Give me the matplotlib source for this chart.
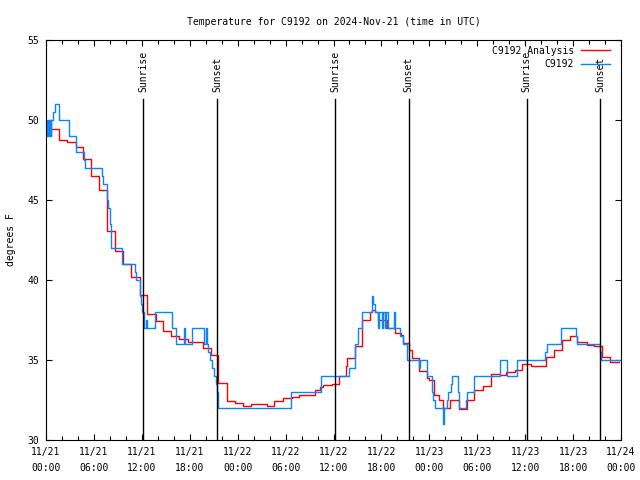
"""
Temperature for C9192 on 2024-Nov-21 - observations vs analysis, with sunrise/sunset marks
"""

import numpy as np
import pandas as pd
import matplotlib
matplotlib.use("Agg")
import matplotlib.pyplot as plt

# hours since 2024-11-21 00:00 UTC
start = pd.Timestamp("2024-11-21 00:00")

# C9192 observations (step data)
obs_hours = [0.00, 0.16, 0.22, 0.38, 0.44, 0.59, 0.65, 0.91, 1.09, 1.63,
             2.92, 3.72, 4.76, 4.92, 7.05, 7.18, 7.68, 7.80, 7.97, 8.18,
             9.48, 11.11, 11.27, 11.77, 11.93, 12.06, 12.27, 12.55, 12.65, 13.65,
             15.74, 16.24, 17.30, 17.45, 18.32, 19.82, 20.00, 20.10, 20.32, 20.54,
             20.82, 21.04, 21.25, 21.41, 21.50, 30.68, 34.40, 37.98, 38.69, 39.10,
             39.61, 40.78, 40.85, 40.95, 41.20, 41.61, 41.72, 42.04, 42.15, 42.45,
             42.55, 42.83, 43.58, 43.70, 44.33, 44.67, 45.24, 46.74, 46.84, 47.67,
             48.30, 48.50, 48.71, 49.75, 49.85, 50.18, 50.38, 50.71, 50.88, 51.63,
             51.75, 52.59, 52.75, 53.63, 56.85, 57.76, 59.02, 62.48, 62.70, 64.45,
             66.37, 66.53, 69.37, 69.50, 72.00]
obs_temp = [50.0, 49.0, 50.0, 49.0, 50.0, 49.0, 50.0, 50.5, 51.0, 50.0,
            49.0, 48.0, 47.5, 47.0, 46.5, 46.0, 45.0, 44.5, 43.5, 42.0,
            41.0, 40.5, 40.0, 39.0, 38.5, 38.0, 37.0, 37.5, 37.0, 38.0,
            37.0, 36.0, 37.0, 36.0, 37.0, 36.0, 37.0, 36.0, 35.5, 35.0,
            34.5, 34.0, 33.5, 33.0, 32.0, 33.0, 34.0, 34.5, 36.0, 37.0,
            38.0, 38.5, 39.0, 38.5, 38.0, 37.0, 38.0, 37.0, 38.0, 37.0,
            38.0, 37.0, 38.0, 37.0, 36.5, 36.0, 35.0, 34.5, 35.0, 34.0,
            33.0, 32.5, 32.0, 31.0, 32.0, 32.5, 33.0, 33.5, 34.0, 33.0,
            32.0, 32.5, 33.0, 34.0, 35.0, 34.0, 35.0, 35.5, 36.0, 37.0,
            36.5, 36.0, 35.5, 35.0, 35.0]

# C9192 analysis (hourly-ish steps)
ana_hours = [0.00, 1.67, 2.59, 3.72, 4.67, 5.68, 6.64, 7.68, 8.68, 9.68,
             10.68, 11.73, 12.69, 13.73, 14.61, 15.65, 16.65, 17.74, 19.70, 20.66,
             21.58, 22.63, 23.67, 24.71, 25.67, 27.71, 28.59, 29.72, 30.76, 31.68,
             33.68, 34.31, 34.73, 35.77, 36.69, 37.57, 37.65, 38.69, 39.53, 40.57,
             40.78, 41.20, 41.61, 42.66, 43.70, 44.40, 44.67, 45.49, 45.79, 46.74,
             47.74, 48.00, 48.63, 49.25, 49.75, 50.59, 51.75, 52.68, 53.63, 54.76,
             55.68, 56.85, 57.65, 58.70, 59.65, 60.69, 61.65, 62.61, 63.61, 64.57,
             65.61, 66.53, 67.70, 68.62, 69.58, 70.62, 71.80]
ana_temp = [49.45, 48.75, 48.6, 48.3, 47.55, 46.5, 45.6, 43.05, 41.8, 41.0,
            40.2, 39.05, 37.9, 37.45, 36.8, 36.5, 36.3, 36.15, 35.75, 35.3,
            33.55, 32.45, 32.3, 32.15, 32.25, 32.15, 32.45, 32.6, 32.7, 32.8,
            33.1, 33.3, 33.45, 33.5, 34.0, 34.6, 35.1, 35.9, 37.5, 38.0,
            38.15, 38.0, 37.5, 37.0, 36.7, 36.55, 36.05, 35.65, 35.1, 34.3,
            33.9, 33.75, 32.8, 32.5, 32.0, 32.5, 31.95, 32.5, 33.15, 33.4,
            34.1, 34.05, 34.25, 34.35, 34.75, 34.6, 34.6, 35.2, 35.65, 36.25,
            36.5, 36.15, 35.95, 35.85, 35.2, 34.9, 34.9]

sunrise_hours = [12.19, 36.22, 60.17]
sunset_hours = [21.45, 45.40, 69.40]

tick_hours = np.arange(0, 73, 6)
tick_labels = [(start + pd.Timedelta(hours=int(h))).strftime("%m/%d\n%H:%M") for h in tick_hours]

plt.rcParams["font.family"] = "DejaVu Sans Mono"
plt.rcParams["font.size"] = 7

fig = plt.figure(figsize=(6.4, 4.8), dpi=100)
ax = fig.add_axes([46/640, 40/480, 575/640, 400/480])

ax.step(ana_hours, ana_temp, where="post", color="red", lw=1.0, label="C9192 Analysis")
ax.step(obs_hours, obs_temp, where="post", color="#0a84ff", lw=1.0, label="C9192")

for h in sunrise_hours:
    ax.axvline(h, ymax=0.853, color="black", lw=1.0)
    ax.text(h, 0.87, "Sunrise", rotation=90, ha="center", va="bottom",
            transform=ax.get_xaxis_transform())
for h in sunset_hours:
    ax.axvline(h, ymax=0.853, color="black", lw=1.0)
    ax.text(h, 0.87, "Sunset", rotation=90, ha="center", va="bottom",
            transform=ax.get_xaxis_transform())

ax.set_xlim(0, 72)
ax.set_ylim(30, 55)
ax.set_xticks(tick_hours)
ax.set_xticklabels(tick_labels, linespacing=1.75)
ax.set_xticks(np.arange(0, 73, 2), minor=True)
ax.set_yticks([30, 35, 40, 45, 50, 55])
ax.tick_params(which="both", direction="in", top=True, right=True, width=0.8)
ax.tick_params(which="major", length=4.5)
ax.tick_params(which="minor", length=3)
ax.tick_params(axis="x", pad=5)
ax.tick_params(axis="y", pad=5)
for s in ax.spines.values():
    s.set_linewidth(0.8)

ax.set_ylabel("degrees F", labelpad=8)
ax.set_title("Temperature for C9192 on 2024-Nov-21 (time in UTC)", fontsize=7, pad=11)

ax.legend(loc="upper right", bbox_to_anchor=(0.991, 1.0), frameon=False,
          markerfirst=False, handlelength=3.0, handletextpad=0.7,
          borderaxespad=0.2, labelspacing=0.35)

plt.savefig("out.png", dpi=100)
